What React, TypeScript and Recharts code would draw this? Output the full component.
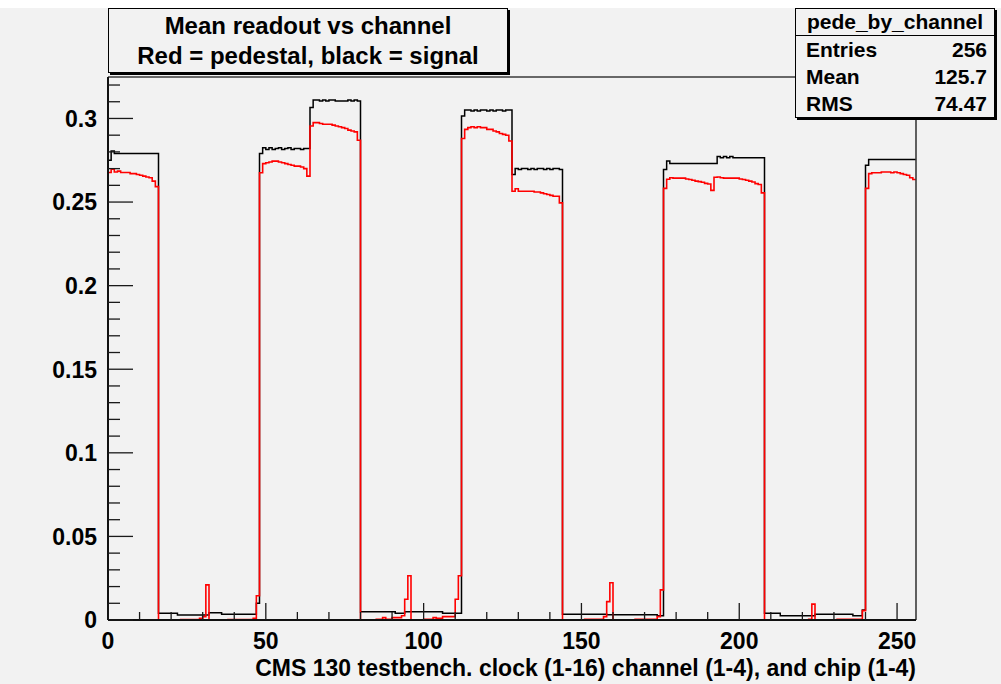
import React from 'react';
import { ComposedChart, Line, XAxis, YAxis } from 'recharts';

const FONT = '"Liberation Sans", Arial, Helvetica, sans-serif';

// Signal (black) per chip, 64 bins each
const signalChip1 = [
  0.275, 0.2805, 0.279, 0.279, 0.279, 0.279, 0.279, 0.279, 0.279, 0.279, 0.279, 0.279, 0.279, 0.279, 0.279, 0.279,
  0.004, 0.004, 0.004, 0.004, 0.004, 0.004, 0.003, 0.003, 0.003, 0.003, 0.003, 0.003, 0.003, 0.003, 0.003, 0.003,
  0.0044, 0.0044, 0.0044, 0.0044, 0.0034, 0.0034, 0.0034, 0.0034, 0.0034, 0.0034, 0.0034, 0.0034, 0.0034, 0.0034, 0.0034, 0.010,
  0.279, 0.2825, 0.2815, 0.2825, 0.2815, 0.282, 0.2825, 0.2815, 0.282, 0.2825, 0.2815, 0.282, 0.282, 0.2815, 0.282, 0.282,
];
const signalChip2 = [
  0.3065, 0.311, 0.311, 0.3105, 0.311, 0.3105, 0.311, 0.311, 0.3105, 0.3105, 0.3105, 0.3105, 0.311, 0.3105, 0.311, 0.3105,
  0.005, 0.005, 0.005, 0.005, 0.005, 0.005, 0.005, 0.005, 0.005, 0.005, 0.005, 0.004, 0.004, 0.004, 0.005, 0.005,
  0.005, 0.005, 0.005, 0.005, 0.005, 0.005, 0.005, 0.005, 0.005, 0.005, 0.004, 0.004, 0.004, 0.004, 0.004, 0.004,
  0.3015, 0.305, 0.305, 0.3045, 0.305, 0.3045, 0.305, 0.305, 0.3045, 0.305, 0.3045, 0.305, 0.305, 0.3045, 0.305, 0.305,
];
const signalChip3 = [
  0.2665, 0.27, 0.2695, 0.27, 0.27, 0.2695, 0.27, 0.2695, 0.27, 0.27, 0.2695, 0.27, 0.2695, 0.27, 0.27, 0.2695,
  0.0034, 0.0034, 0.0034, 0.0034, 0.0034, 0.0034, 0.0034, 0.0034, 0.0034, 0.0034, 0.0034, 0.0034, 0.0034, 0.0034, 0.0032, 0.0032,
  0.0032, 0.0032, 0.0032, 0.0032, 0.0032, 0.0032, 0.0032, 0.0032, 0.0032, 0.0032, 0.0032, 0.0032, 0.0032, 0.0032, 0.0025, 0.0025,
  0.2695, 0.2745, 0.273, 0.273, 0.273, 0.273, 0.273, 0.273, 0.273, 0.273, 0.273, 0.273, 0.273, 0.273, 0.273, 0.273,
];
const signalChip4 = [
  0.273, 0.2772, 0.2765, 0.2772, 0.2765, 0.2772, 0.2765, 0.2765, 0.2765, 0.2765, 0.2765, 0.2765, 0.2765, 0.2765, 0.2765, 0.2765,
  0.004, 0.004, 0.004, 0.004, 0.004, 0.0025, 0.0025, 0.0025, 0.0025, 0.0025, 0.0025, 0.0025, 0.0025, 0.0025, 0.0025, 0.0025,
  0.0034, 0.0034, 0.0034, 0.0034, 0.0034, 0.0034, 0.0034, 0.0034, 0.0034, 0.0034, 0.0034, 0.0034, 0.0025, 0.0025, 0.0025, 0.006,
  0.272, 0.2755, 0.2755, 0.2755, 0.2755, 0.2755, 0.2755, 0.2755, 0.2755, 0.2755, 0.2755, 0.2755, 0.2755, 0.2755, 0.2755, 0.2755,
];

// Pedestal (red) per chip, 64 bins each
const pedestalChip1 = [
  0.2677, 0.2697, 0.268, 0.2685, 0.2677, 0.2677, 0.2677, 0.267, 0.267, 0.2665, 0.266, 0.2655, 0.265, 0.2645, 0.2625, 0.2592,
  0, 0, 0, 0, 0, 0, 0, 0.0003, 0.0003, 0.0003, 0.0003, 0.0003, 0.0003, 0.001, 0.002, 0.021,
  0, 0, 0, 0, 0, 0, 0.0002, 0.0002, 0.0002, 0.0002, 0.0002, 0.0002, 0.0002, 0.0002, 0.001, 0.0145,
  0.2675, 0.273, 0.2735, 0.274, 0.2745, 0.2745, 0.274, 0.2735, 0.273, 0.2725, 0.272, 0.2715, 0.2715, 0.271, 0.270, 0.2655,
];
const pedestalChip2 = [
  0.2955, 0.2975, 0.2975, 0.297, 0.2965, 0.2965, 0.2965, 0.296, 0.2955, 0.295, 0.2945, 0.294, 0.293, 0.2925, 0.292, 0.287,
  0, 0, 0, 0, 0, 0.0004, 0.0004, 0.0014, 0.0004, 0.0004, 0.0014, 0.0014, 0.0014, 0.0025, 0.0124, 0.0265,
  0, 0, 0, 0, 0.0004, 0.0004, 0.0004, 0.0014, 0.001, 0.001, 0.002, 0.002, 0.002, 0.002, 0.0124, 0.0265,
  0.288, 0.2935, 0.2945, 0.295, 0.2945, 0.295, 0.2945, 0.2945, 0.2935, 0.2935, 0.2925, 0.292, 0.291, 0.2905, 0.29, 0.2865,
];
const pedestalChip3 = [
  0.2565, 0.258, 0.2565, 0.2565, 0.2565, 0.2565, 0.2565, 0.256, 0.256, 0.2555, 0.255, 0.2545, 0.254, 0.2535, 0.2535, 0.2495,
  0, 0, 0, 0, 0, 0, 0, 0.0004, 0.0004, 0.0004, 0.0004, 0.0004, 0.0004, 0.002, 0.011, 0.0223,
  0, 0, 0, 0, 0, 0, 0, 0.0004, 0.0004, 0.0004, 0.0004, 0.0004, 0.0004, 0.0004, 0.002, 0.018,
  0.2582, 0.2636, 0.2645, 0.2643, 0.2643, 0.2643, 0.2643, 0.2638, 0.2635, 0.263, 0.2625, 0.2622, 0.2618, 0.2612, 0.2608, 0.257,
];
const pedestalChip4 = [
  0.2648, 0.265, 0.2645, 0.2643, 0.2643, 0.2643, 0.2643, 0.2643, 0.2638, 0.2635, 0.263, 0.2625, 0.262, 0.261, 0.2605, 0.2555,
  0, 0, 0, 0, 0, 0, 0, 0, 0, 0, 0, 0, 0, 0, 0.0004, 0.0095,
  0, 0, 0, 0, 0, 0, 0, 0.0004, 0.0004, 0.0004, 0.0004, 0.0004, 0.0004, 0.0004, 0.0004, 0.0056,
  0.2582, 0.267, 0.2675, 0.2675, 0.2675, 0.268, 0.268, 0.268, 0.2675, 0.268, 0.2675, 0.267, 0.2665, 0.266, 0.2645, 0.2635,
];

const xMajorTicks = [0, 50, 100, 150, 200, 250];
const xMajorLabels = ['0', '50', '100', '150', '200', '250'];
const xMinorTicks = [10, 20, 30, 40, 60, 70, 80, 90, 110, 120, 130, 140, 160, 170, 180, 190, 210, 220, 230, 240];
const yMajorTicks = [0, 0.05, 0.1, 0.15, 0.2, 0.25, 0.3];
const yMajorLabels = ['0', '0.05', '0.1', '0.15', '0.2', '0.25', '0.3'];
const yMinorTicks = [0.01, 0.02, 0.03, 0.04, 0.06, 0.07, 0.08, 0.09, 0.11, 0.12, 0.13, 0.14, 0.16, 0.17, 0.18, 0.19,
  0.21, 0.22, 0.23, 0.24, 0.26, 0.27, 0.28, 0.29, 0.31, 0.32];

const statsLabels = ['Entries', 'Mean', 'RMS'];
const statsValues = ['256', '125.7', '74.47'];

const X_MAX = 256;
const Y_MAX = 0.3248;

const signal = [...signalChip1, ...signalChip2, ...signalChip3, ...signalChip4];
const pedestal = [...pedestalChip1, ...pedestalChip2, ...pedestalChip3, ...pedestalChip4];

// bin edges; the final edge repeats the last bin's value so the step closes at 256
const data = signal.map((s, i) => ({ x: i, signal: s, pedestal: pedestal[i] }));
data.push({ x: signal.length, signal: signal[signal.length - 1], pedestal: pedestal[pedestal.length - 1] });

const xAllTicks = [...xMajorTicks, ...xMinorTicks].sort((a, b) => a - b);
const yAllTicks = [...yMajorTicks, ...yMinorTicks].sort((a, b) => a - b);

const TICK_COLOR = '#1a1a1a';

const XTick = (props: any) => {
  const { x, y, payload } = props;
  const idx = xMajorTicks.indexOf(payload.value);
  if (idx < 0) {
    return <line x1={x} y1={y} x2={x} y2={y - 8} stroke={TICK_COLOR} strokeWidth={1.3} />;
  }
  return (
    <g>
      <line x1={x} y1={y} x2={x} y2={y - 17} stroke={TICK_COLOR} strokeWidth={1.3} />
      <text x={x} y={y + 29} textAnchor="middle" fontFamily={FONT} fontWeight="bold" fontSize={23} fill="#000">
        {xMajorLabels[idx]}
      </text>
    </g>
  );
};
const YTick = (props: any) => {
  const { x, y, payload } = props;
  const idx = yMajorTicks.indexOf(payload.value);
  if (idx < 0) {
    return <line x1={x} y1={y} x2={x + 12} y2={y} stroke={TICK_COLOR} strokeWidth={1.3} />;
  }
  return (
    <g>
      <line x1={x} y1={y} x2={x + 25} y2={y} stroke={TICK_COLOR} strokeWidth={1.3} />
      <text x={x - 11} y={y} dy="0.36em" textAnchor="end" fontFamily={FONT} fontWeight="bold" fontSize={23} fill="#000">
        {yMajorLabels[idx]}
      </text>
    </g>
  );
};

export default function App() {
  const bg = '#f2f2f2';
  return (
    <div style={{ position: 'absolute', left: 0, top: 0, width: 1001, height: 684, background: '#ffffff', overflow: 'hidden' }}>
      <div style={{ position: 'absolute', left: 0, top: 8, width: 1001, height: 676, background: bg }} />
      <div style={{ position: 'absolute', left: 0, top: 0 }}>
        <ComposedChart width={1001} height={684} data={data} margin={{ top: 76, right: 84, bottom: 63, left: 107 }}>
          <XAxis xAxisId="top" orientation="top" type="number" dataKey="x" domain={[0, X_MAX]} height={1}
            ticks={xMajorTicks} tick={false} tickLine={false} axisLine={{ stroke: '#3a3a3a', strokeWidth: 1.4 }} />
          <YAxis yAxisId="right" orientation="right" type="number" domain={[0, Y_MAX]} width={1}
            ticks={yMajorTicks} tick={false} tickLine={false} axisLine={{ stroke: '#3a3a3a', strokeWidth: 1.6 }} />
          <XAxis xAxisId="x" type="number" dataKey="x" domain={[0, X_MAX]} height={1}
            ticks={xAllTicks} interval={0} tickSize={0} tickMargin={0} tickLine={false}
            axisLine={{ stroke: '#111', strokeWidth: 2 }} tick={<XTick />} />
          <YAxis yAxisId="y" type="number" domain={[0, Y_MAX]} width={1}
            ticks={yAllTicks} interval={0} tickSize={0} tickMargin={0} tickLine={false}
            axisLine={{ stroke: '#111', strokeWidth: 2 }} tick={<YTick />} />
          <Line xAxisId="x" yAxisId="y" type="stepAfter" dataKey="signal" stroke="#000000" strokeWidth={1.5}
            dot={false} activeDot={false} isAnimationActive={false} />
          <Line xAxisId="x" yAxisId="y" type="stepAfter" dataKey="pedestal" stroke="#ff0000" strokeWidth={1.6}
            dot={false} activeDot={false} isAnimationActive={false} />
        </ComposedChart>
      </div>

      {/* Title pave */}
      <div style={{
        position: 'absolute', left: 108, top: 8, width: 398, height: 63, background: bg,
        border: '1px solid #000', boxShadow: '2px 2px 0 #000', fontFamily: FONT, fontWeight: 'bold',
        fontSize: 24, color: '#000', textAlign: 'center',
      }}>
        <div style={{ position: 'absolute', left: 0, right: 0, top: 3, lineHeight: '28px', whiteSpace: 'nowrap' }}>Mean readout vs channel</div>
        <div style={{ position: 'absolute', left: 0, right: 0, top: 33, lineHeight: '28px', whiteSpace: 'nowrap' }}>Red = pedestal, black = signal</div>
      </div>

      {/* Stats box */}
      <div style={{
        position: 'absolute', left: 795, top: 8, width: 198, height: 108, background: bg,
        border: '1px solid #000', boxShadow: '2px 2px 0 #000', fontFamily: FONT, fontWeight: 'bold',
        fontSize: 21, color: '#000',
      }}>
        <div style={{ position: 'absolute', left: 0, right: 0, top: 0, height: 26, lineHeight: '26px', textAlign: 'center', borderBottom: '1px solid #000', whiteSpace: 'nowrap' }}>pede_by_channel</div>
        {statsLabels.map((lab, i) => (
          <div key={lab} style={{ position: 'absolute', left: 10, right: 7, top: 27 + i * 27, height: 27, lineHeight: '27px' }}>
            <span style={{ position: 'absolute', left: 0 }}>{lab}</span>
            <span style={{ position: 'absolute', right: 0 }}>{statsValues[i]}</span>
          </div>
        ))}
      </div>

      {/* X axis title */}
      <div style={{
        position: 'absolute', right: 1001 - 916, top: 656, lineHeight: '24px', fontFamily: FONT, fontWeight: 'bold',
        fontSize: 23, color: '#000', whiteSpace: 'nowrap',
      }}>
        CMS 130 testbench. clock (1-16) channel (1-4), and chip (1-4)
      </div>
    </div>
  );
}
